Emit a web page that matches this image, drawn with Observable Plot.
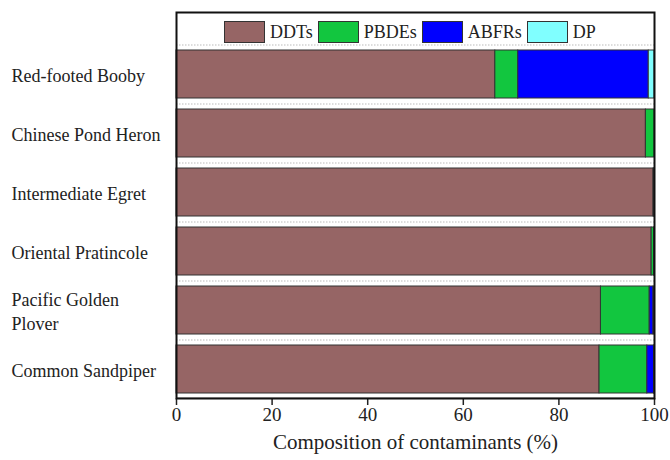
<!DOCTYPE html>
<html>
<head>
<meta charset="utf-8">
<script src="https://cdn.jsdelivr.net/npm/d3@7"></script>
<script src="https://cdn.jsdelivr.net/npm/@observablehq/plot@0.6"></script>
<style>
  html, body { margin: 0; padding: 0; background: #fff; }
  #wrap { position: relative; width: 670px; height: 460px; font-family: "Liberation Serif", serif; }
  #legend { position: absolute; left: 224px; top: 21px; display: flex; align-items: center; font-family: "Liberation Serif", serif; font-size: 18px; color: #222; }
  #legend .item { display: flex; align-items: center; margin-right: 5px; }
  #legend .sw { width: 39px; height: 20px; border: 1px solid #333; margin-right: 5px; box-sizing: content-box; }
  #legend span { font-family: "Liberation Serif", serif; }
</style>
</head>
<body>
<div id="wrap"><div id="legend"></div></div>
<script>
const species = ["Red-footed Booby", "Chinese Pond Heron", "Intermediate Egret", "Oriental Pratincole", "Pacific Golden Plover", "Common Sandpiper"];
const speciesLabels = ["Red-footed Booby", "Chinese Pond Heron", "Intermediate Egret", "Oriental Pratincole", "Pacific Golden\nPlover", "Common Sandpiper"];
const groups = ["DDTs", "PBDEs", "ABFRs", "DP"];
const colors = ["#966565", "#12C63F", "#0000FF", "#80FFFF"];
const DDTs  = [66.7, 98.2, 99.8, 99.4, 88.8, 88.5];
const PBDEs = [4.8, 1.8, 0.1, 0.5, 10.2, 10.0];
const ABFRs = [27.3, 0.0, 0.1, 0.1, 0.8, 1.4];
const DP    = [1.2, 0.0, 0.0, 0.0, 0.2, 0.1];
const xTicks = [0, 20, 40, 60, 80, 100];
const xTitle = "Composition of contaminants (%)";

const series = [DDTs, PBDEs, ABFRs, DP];
const rows = [];
species.forEach((s, i) => groups.forEach((g, j) => rows.push({species: s, group: g, value: series[j][i]})));
const bars = rows.filter(d => d.value > 0);

const H = 460, MT = 44, MB = 62;
const step = (H - MT - MB) / species.length;
const FF = '"Liberation Serif", serif';

const chart = Plot.plot({
  width: 670,
  height: H,
  marginTop: MT,
  marginBottom: MB,
  marginLeft: 176,
  marginRight: 16,
  style: {fontFamily: FF, fontSize: "18px", color: "#222", background: "#fff"},
  x: {domain: [0, 100]},
  y: {domain: species, paddingInner: 0.19, paddingOuter: 0.095},
  color: {domain: groups, range: colors},
  marks: [
    Plot.ruleY(species, {y: d => d, dy: -step / 2, stroke: "#bbb", strokeDasharray: "1.5,1.5", strokeWidth: 1}),
    Plot.ruleY(species.slice(-1), {y: d => d, dy: step / 2 - 1, stroke: "#999", strokeWidth: 1}),
    Plot.barX(bars, Plot.stackX({x: "value", y: "species", fill: "group", order: groups, stroke: "#333", strokeWidth: 1})),
    Plot.axisY({tickSize: 0, textAnchor: "start", tickPadding: 165, fontSize: 18, fontFamily: FF, lineHeight: 1.35,
      tickFormat: d => speciesLabels[species.indexOf(d)], label: null}),
    Plot.axisX({ticks: xTicks, tickSize: 7, tickPadding: 2, strokeWidth: 1.5, fontSize: 19, fontFamily: FF, label: null}),
    Plot.text([xTitle], {text: d => d, frameAnchor: "bottom", lineAnchor: "middle", dy: 44, fontSize: 21, fontFamily: FF, fill: "#222"}),
    Plot.frame({stroke: "#111", strokeWidth: 2, insetTop: -32})
  ]
});
document.getElementById("wrap").prepend(chart);

const legend = document.getElementById("legend");
groups.forEach((g, j) => {
  const item = document.createElement("div");
  item.className = "item";
  const sw = document.createElement("div");
  sw.className = "sw";
  sw.style.background = colors[j];
  const t = document.createElement("span");
  t.textContent = g;
  item.appendChild(sw);
  item.appendChild(t);
  legend.appendChild(item);
});
</script>
</body>
</html>
